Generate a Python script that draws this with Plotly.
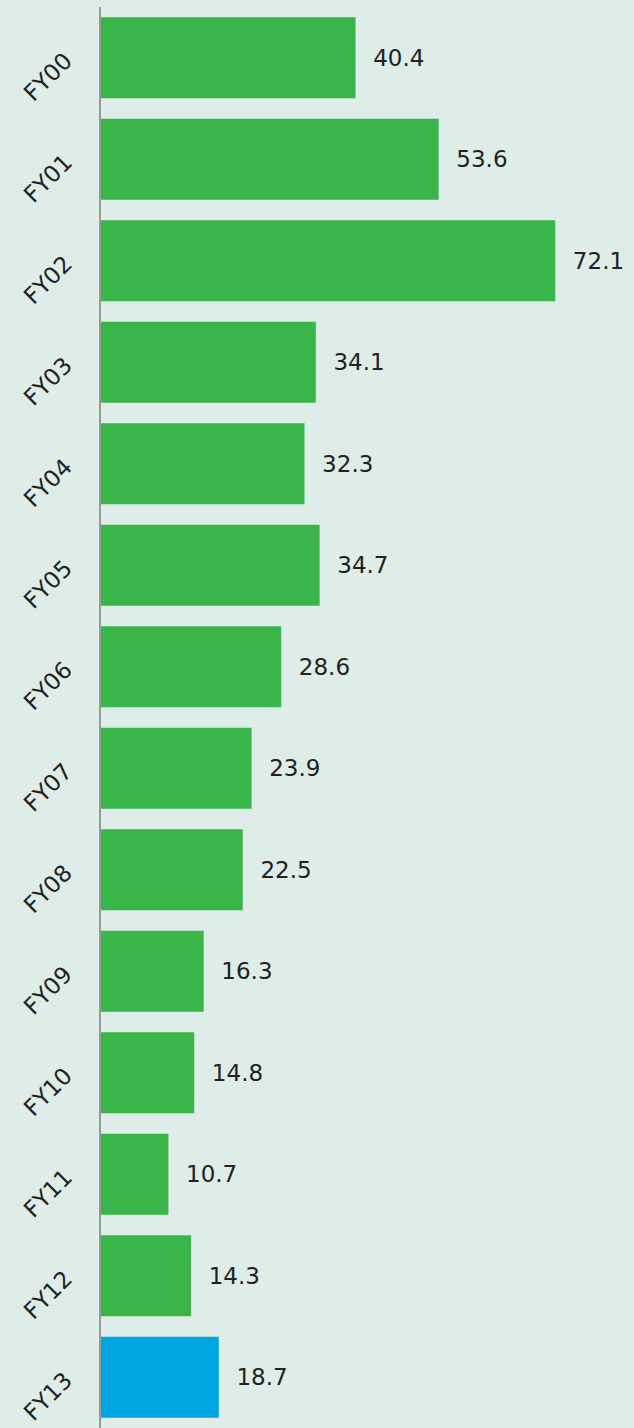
import plotly.graph_objects as go

categories = ["FY00", "FY01", "FY02", "FY03", "FY04", "FY05", "FY06",
              "FY07", "FY08", "FY09", "FY10", "FY11", "FY12", "FY13"]
values = [40.4, 53.6, 72.1, 34.1, 32.3, 34.7, 28.6,
          23.9, 22.5, 16.3, 14.8, 10.7, 14.3, 18.7]
colors = ["#39b54a"] * 13 + ["#00a6e2"]

FONT = "DejaVu Sans"

fig = go.Figure(go.Bar(
    y=categories,
    x=values,
    orientation="h",
    marker=dict(color=colors, line=dict(width=0)),
    text=["  " + f"{v:.1f}" for v in values],
    textposition="outside",
    textfont=dict(size=23, color="#222222", family=FONT),
    cliponaxis=False,
))

fig.update_layout(
    width=634, height=1428,
    margin=dict(l=101, r=0, t=7, b=0),
    paper_bgcolor="#deede7",
    plot_bgcolor="#deede7",
    bargap=0.2,
    showlegend=False,
    font=dict(family=FONT, color="#222222"),
    xaxis=dict(range=[0, 84.6], showgrid=False, zeroline=False,
               showticklabels=False, showline=False, fixedrange=True),
    yaxis=dict(autorange="reversed", showgrid=False, zeroline=False,
               showline=True, linecolor="#999999", linewidth=2,
               tickangle=-45, tickfont=dict(size=23, color="#222222", family=FONT),
               ticks="", ticklen=0, ticklabelstandoff=29, fixedrange=True),
)

fig.write_html("out.html", config={"displayModeBar": False},
               post_script="document.body.style.margin='0';")
